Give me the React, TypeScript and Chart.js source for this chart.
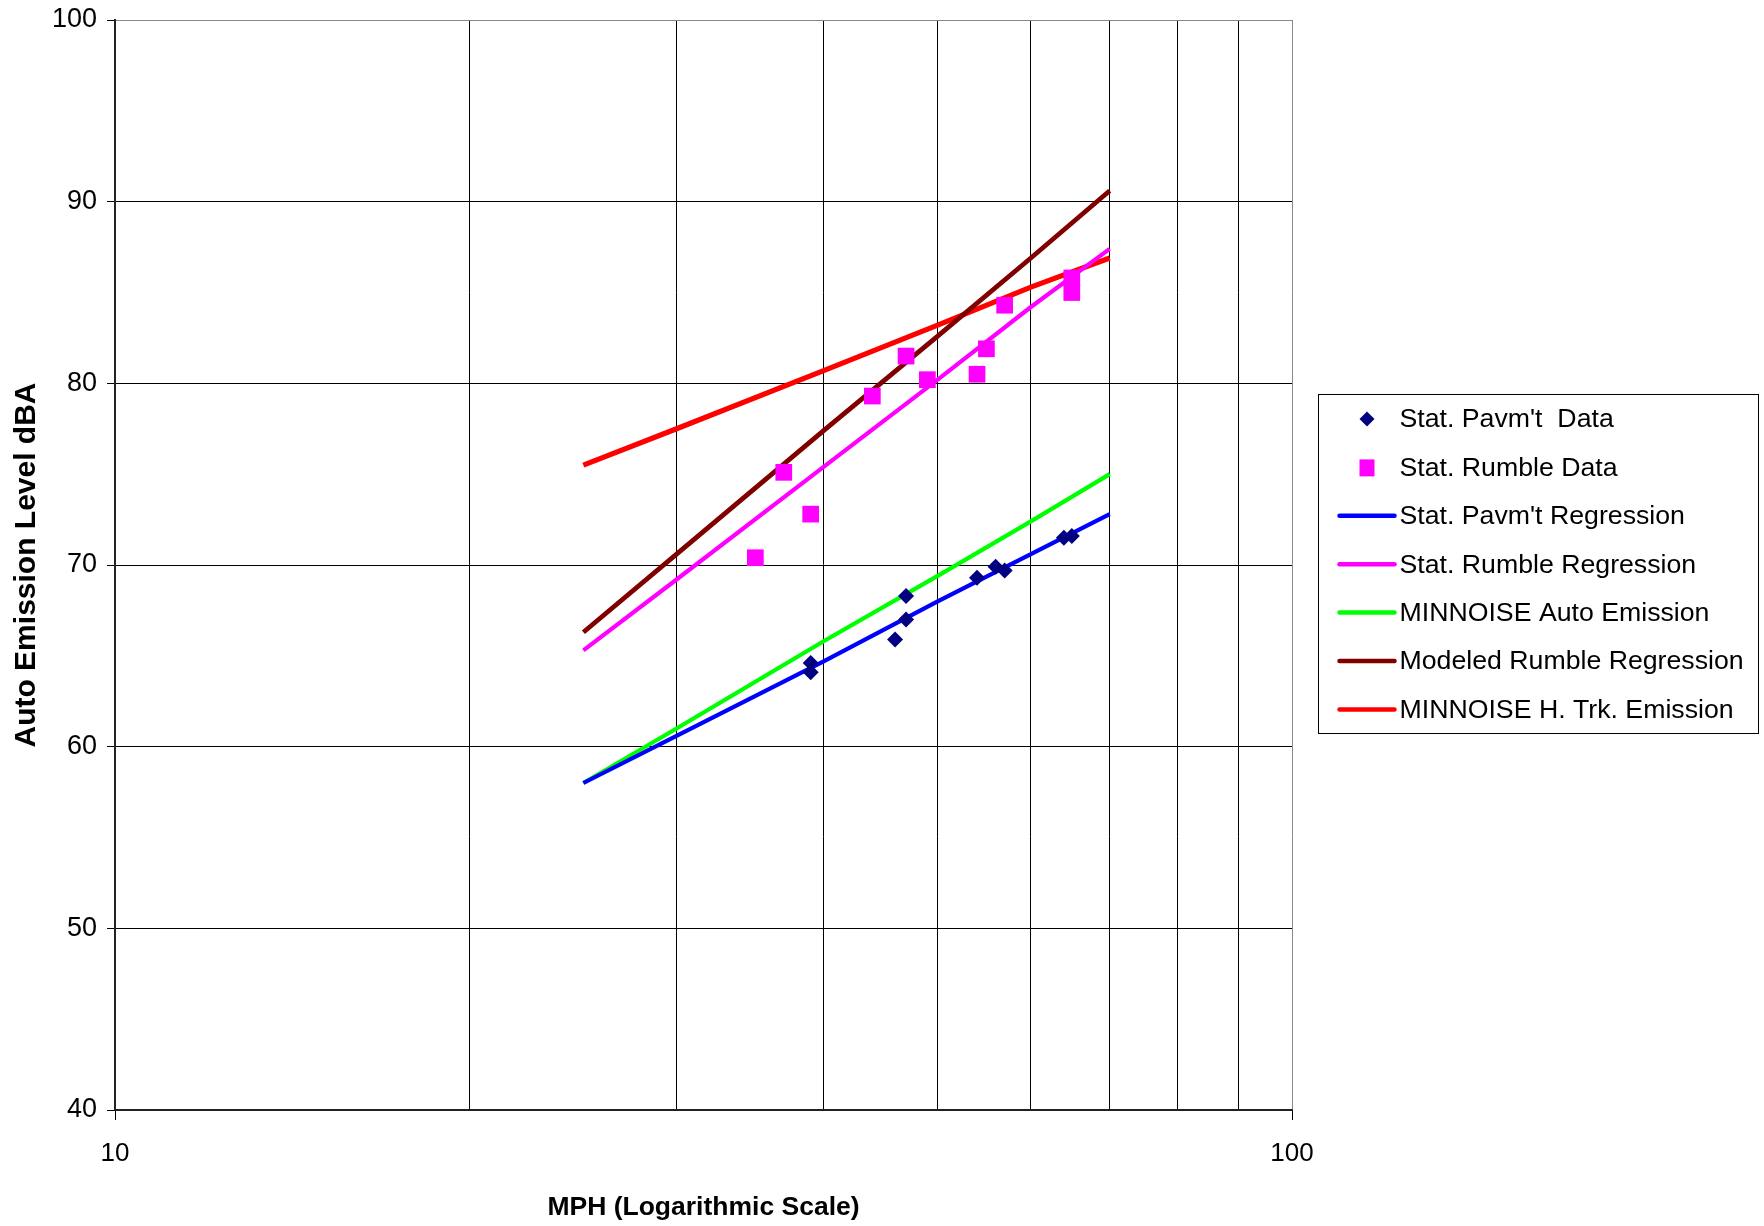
import React, { useEffect, useRef } from 'react';
import { Chart, registerables } from 'chart.js';

Chart.register(...registerables);

const FONT = '"Liberation Sans", Arial, Helvetica, sans-serif';

// Measured data (speed in MPH, level in dBA)
const PAVEMENT_MPH = [39, 39, 46, 47, 47, 54, 56, 57, 64, 65];
const PAVEMENT_DBA = [64.6, 64.1, 65.9, 68.3, 67.0, 69.3, 69.9, 69.7, 71.5, 71.6];
const RUMBLE_MPH = [35, 37, 39, 44, 47, 49, 54, 55, 57, 65, 65];
const RUMBLE_DBA = [70.4, 75.1, 72.8, 79.3, 81.5, 80.2, 80.5, 81.9, 84.3, 85.8, 85.0];

// Regression / model curves
const LINE_MPH = [25, 30, 40, 50, 60, 70];
const PAVEMENT_REG = [58.0, 60.6, 64.7, 68.0, 70.6, 72.8];
const RUMBLE_REG = [65.3, 69.2, 75.4, 80.2, 84.2, 87.4];
const MINNOISE_AUTO = [58.0, 61.0, 65.8, 69.4, 72.4, 75.0];
const MODELED_RUMBLE = [66.3, 70.6, 77.4, 82.6, 86.9, 90.6];
const MINNOISE_HTRK = [75.5, 77.5, 80.7, 83.2, 85.3, 86.9];

const X_MIN = 10;
const X_MAX = 100;
const X_GRID = [10, 20, 30, 40, 50, 60, 70, 80, 90, 100];
const X_TICK_LABELS = [10, 100];
const Y_MIN = 40;
const Y_MAX = 100;
const Y_STEP = 10;

const X_TITLE = 'MPH (Logarithmic Scale)';
const Y_TITLE = 'Auto Emission Level dBA';

const toPts = (xs: number[], ys: number[]) => xs.map((x, i) => ({ x, y: ys[i] }));

function drawDiamond(ctx: CanvasRenderingContext2D, x: number, y: number, r: number) {
  ctx.beginPath();
  ctx.moveTo(x - r, y);
  ctx.lineTo(x, y - r);
  ctx.lineTo(x + r, y);
  ctx.lineTo(x, y + r);
  ctx.closePath();
  ctx.fill();
}

const boxLegend = {
  id: 'boxLegend',
  afterDraw(chart: any) {
    const ctx: CanvasRenderingContext2D = chart.ctx;
    const area = chart.chartArea;
    const bx = Math.round(area.right + 26) + 0.5;
    const by = 394.5;
    const bw = 440;
    const bh = 339;
    ctx.save();
    ctx.fillStyle = '#ffffff';
    ctx.fillRect(bx, by, bw, bh);
    ctx.strokeStyle = '#000000';
    ctx.lineWidth = 1;
    ctx.strokeRect(bx, by, bw, bh);
    const rowY0 = by + 24.5;
    const rowStep = 48.4;
    ctx.font = `26.7px ${FONT}`;
    ctx.textBaseline = 'middle';
    ctx.textAlign = 'left';
    chart.data.datasets.forEach((ds: any, i: number) => {
      const y = rowY0 + i * rowStep;
      if (ds.showLine) {
        ctx.strokeStyle = ds.borderColor;
        ctx.lineWidth = 4.5;
        ctx.lineCap = 'round';
        ctx.beginPath();
        ctx.moveTo(bx + 21, y);
        ctx.lineTo(bx + 76, y);
        ctx.stroke();
      } else {
        ctx.fillStyle = ds.pointBackgroundColor;
        const cx = bx + 48.5;
        if (ds.pointStyle === 'rectRot') {
          drawDiamond(ctx, cx, y, 7.5);
        } else {
          ctx.fillRect(cx - 7.5, y - 8, 15, 17);
        }
      }
      ctx.fillStyle = '#000000';
      ctx.fillText(ds.label, bx + 81, y + 1);
    });
    ctx.restore();
  },
};

export default function App() {
  const canvasRef = useRef<HTMLCanvasElement | null>(null);

  useEffect(() => {
    const canvas = canvasRef.current;
    if (!canvas) return;
    const chart = new Chart(canvas, {
      type: 'scatter',
      data: {
        datasets: [
          {
            label: "Stat. Pavm't  Data",
            data: toPts(PAVEMENT_MPH, PAVEMENT_DBA),
            showLine: false,
            pointStyle: 'rectRot',
            pointRadius: 8,
            pointBackgroundColor: '#000080',
            pointBorderColor: '#000080',
            pointBorderWidth: 0,
          },
          {
            label: 'Stat. Rumble Data',
            data: toPts(RUMBLE_MPH, RUMBLE_DBA),
            showLine: false,
            pointStyle: 'rect',
            pointRadius: 11.8,
            pointBackgroundColor: '#FF00FF',
            pointBorderColor: '#FF00FF',
            pointBorderWidth: 0,
          },
          {
            label: "Stat. Pavm't Regression",
            data: toPts(LINE_MPH, PAVEMENT_REG),
            showLine: true,
            borderColor: '#0000FF',
            borderWidth: 4.2,
            pointRadius: 0,
          },
          {
            label: 'Stat. Rumble Regression',
            data: toPts(LINE_MPH, RUMBLE_REG),
            showLine: true,
            borderColor: '#FF00FF',
            borderWidth: 4.2,
            pointRadius: 0,
          },
          {
            label: 'MINNOISE Auto Emission',
            data: toPts(LINE_MPH, MINNOISE_AUTO),
            showLine: true,
            borderColor: '#00FF00',
            borderWidth: 4.2,
            pointRadius: 0,
          },
          {
            label: 'Modeled Rumble Regression',
            data: toPts(LINE_MPH, MODELED_RUMBLE),
            showLine: true,
            borderColor: '#800000',
            borderWidth: 4.8,
            pointRadius: 0,
          },
          {
            label: 'MINNOISE H. Trk. Emission',
            data: toPts(LINE_MPH, MINNOISE_HTRK),
            showLine: true,
            borderColor: '#FF0000',
            borderWidth: 5.2,
            pointRadius: 0,
          },
        ],
      },
      options: {
        animation: false,
        responsive: false,
        devicePixelRatio: 1,
        events: [],
        layout: { padding: { top: 20, right: 472, left: 0, bottom: 0 } },
        plugins: {
          legend: { display: false },
          tooltip: { enabled: false },
          title: { display: false },
        },
        scales: {
          x: {
            type: 'logarithmic',
            min: X_MIN,
            max: X_MAX,
            afterBuildTicks: (s: any) => {
              s.ticks = X_GRID.map((v) => ({ value: v, major: X_TICK_LABELS.includes(v) }));
            },
            ticks: {
              autoSkip: false,
              maxRotation: 0,
              color: '#000',
              padding: 18,
              font: { size: 26, family: FONT },
              callback: (v: any) => (X_TICK_LABELS.includes(Number(v)) ? String(v) : ''),
            },
            grid: {
              color: (c: any) => (c.tick && c.tick.value === X_MAX ? '#888888' : '#000000'),
              lineWidth: 1,
              tickLength: 10,
              tickColor: (c: any) =>
                c.tick && X_TICK_LABELS.includes(c.tick.value) ? '#000000' : 'rgba(0,0,0,0)',
            },
            border: { color: '#222', width: 2 },
            title: {
              display: true,
              text: X_TITLE,
              color: '#000',
              font: { size: 26.5, weight: 'bold', family: FONT },
              padding: { top: 0, bottom: 2 },
            },
            afterFit: (s: any) => {
              s.height = 116;
              s.paddingLeft = 0;
              s.paddingRight = 0;
            },
          },
          y: {
            min: Y_MIN,
            max: Y_MAX,
            ticks: {
              stepSize: Y_STEP,
              color: '#000',
              padding: 10,
              font: { size: 27, family: FONT },
            },
            grid: {
              color: (c: any) => (c.tick && c.tick.value === Y_MAX ? '#888888' : '#000000'),
              lineWidth: 1,
              tickLength: 8,
              tickColor: '#000000',
            },
            border: { color: '#222', width: 2 },
            title: {
              display: true,
              text: Y_TITLE,
              color: '#000',
              font: { size: 30, weight: 'bold', family: FONT },
              padding: { top: 9, bottom: 0 },
            },
            afterFit: (s: any) => {
              s.width = 115;
              s.paddingTop = 0;
              s.paddingBottom = 0;
            },
          },
        },
      } as any,
      plugins: [boxLegend],
    });
    return () => chart.destroy();
  }, []);

  return (
    <div style={{ position: 'absolute', left: 0, top: 0, width: 1764, height: 1226, background: '#fff' }}>
      <canvas ref={canvasRef} width={1764} height={1226} style={{ display: 'block', width: 1764, height: 1226 }} />
    </div>
  );
}
